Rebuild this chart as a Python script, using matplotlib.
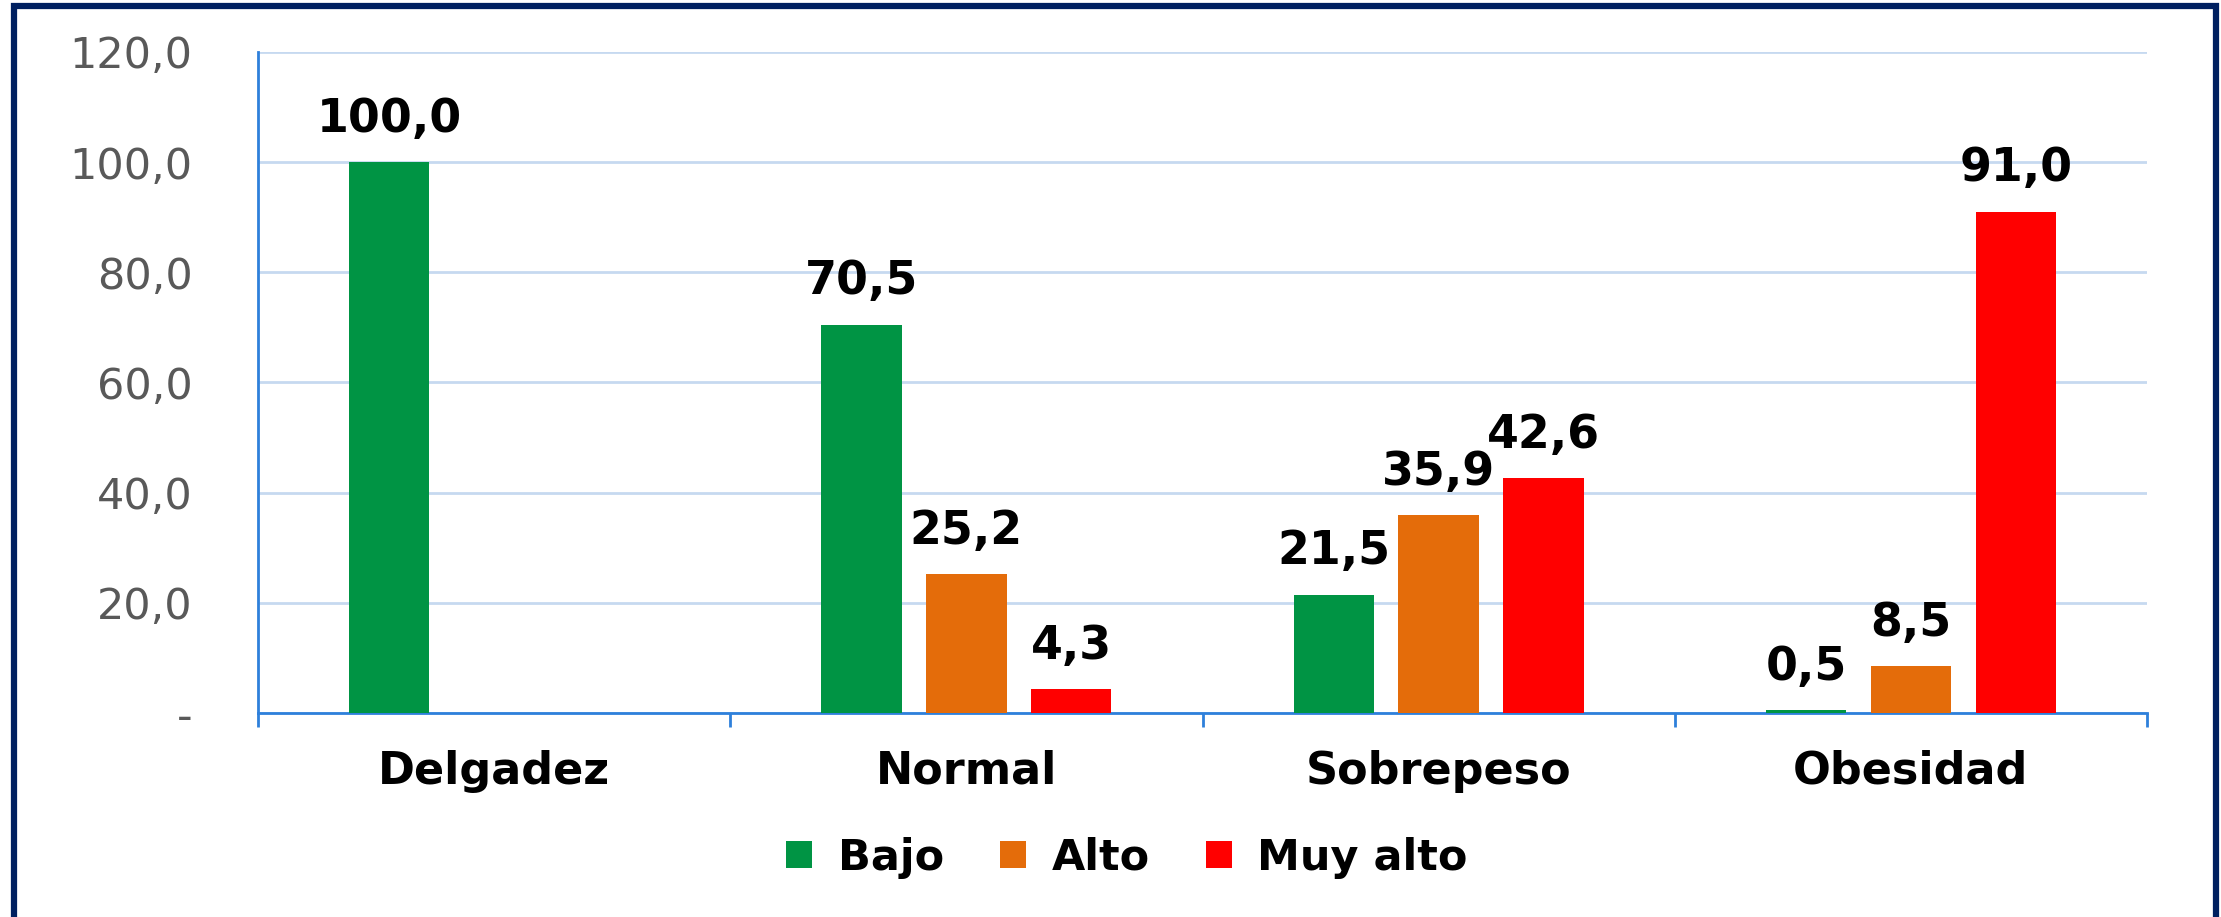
import numpy as np
import matplotlib
matplotlib.use("Agg")
import matplotlib.pyplot as plt
from matplotlib.lines import Line2D

categories = ["Delgadez", "Normal", "Sobrepeso", "Obesidad"]
series_names = ["Bajo", "Alto", "Muy alto"]
bajo = [100.0, 70.5, 21.5, 0.5]
alto = [np.nan, 25.2, 35.9, 8.5]
muy_alto = [np.nan, 4.3, 42.6, 91.0]
y_ticks = [0, 20, 40, 60, 80, 100, 120]

colors = ["#009444", "#E46C0A", "#FF0000"]
W, H = 2221, 917


def fmt(v):
    return f"{v:.1f}".replace(".", ",")


def main() -> None:
    fig = plt.figure(figsize=(W / 100, H / 100), dpi=100)
    fig.patch.set_facecolor("white")
    ax = fig.add_axes([258 / W, 1 - 713 / H, (2147 - 258) / W, (713 - 52) / H])

    x = np.arange(len(categories))
    width = 0.17
    step = 0.222
    for i, (vals, name) in enumerate(zip([bajo, alto, muy_alto], series_names)):
        pos = x + (i - 1) * step
        ax.bar(pos, vals, width=width, color=colors[i], label=name, zorder=3)
        for px, v in zip(pos, vals):
            if np.isnan(v):
                continue
            ax.annotate(fmt(v), (px, v), xytext=(0, 31), textcoords="offset points",
                        ha="center", va="center", fontsize=33, fontweight="bold",
                        family="DejaVu Sans", color="black", zorder=4)

    ax.set_xlim(-0.5, len(categories) - 0.5)
    ax.set_ylim(0, 120)
    ax.set_yticks(y_ticks)
    ax.set_yticklabels(["-" if t == 0 else fmt(t) for t in y_ticks],
                       fontsize=31, color="#595959", family="DejaVu Sans")
    ax.tick_params(axis="y", length=0, pad=47)
    ax.yaxis.grid(True, color="#C6D9F0", linewidth=2, zorder=0)

    ax.set_xticks(x)
    ax.set_xticklabels(categories, fontsize=32, fontweight="bold", family="DejaVu Sans")
    ax.set_xticks(np.arange(-0.5, len(categories)), minor=True)
    ax.tick_params(axis="x", which="major", length=0, pad=42)
    ax.tick_params(axis="x", which="minor", length=10, width=2, color="#2E80DB", direction="out")
    for lbl in ax.get_xticklabels():
        lbl.set_va("center")

    for s in ["top", "right"]:
        ax.spines[s].set_visible(False)
    for s in ["left", "bottom"]:
        ax.spines[s].set_color("#2E80DB")
        ax.spines[s].set_linewidth(2)

    fig.legend(loc="center", bbox_to_anchor=(1127 / W, 1 - 858 / H), ncol=3, frameon=False,
               prop={"family": "DejaVu Sans", "weight": "bold", "size": 31},
               handlelength=0.6, handleheight=0.6, handletextpad=0.6, columnspacing=1.3)

    # dark frame on left, top and right
    lx, rx, ty = 14 / W, 2216 / W, 1 - 6 / H
    fig.add_artist(Line2D([lx, lx, rx, rx], [0, ty, ty, 0], transform=fig.transFigure,
                          color="#002060", linewidth=4.5, solid_joinstyle="miter"))

    fig.savefig("out.png", dpi=100, facecolor="white")
    plt.close(fig)


if __name__ == "__main__":
    main()
